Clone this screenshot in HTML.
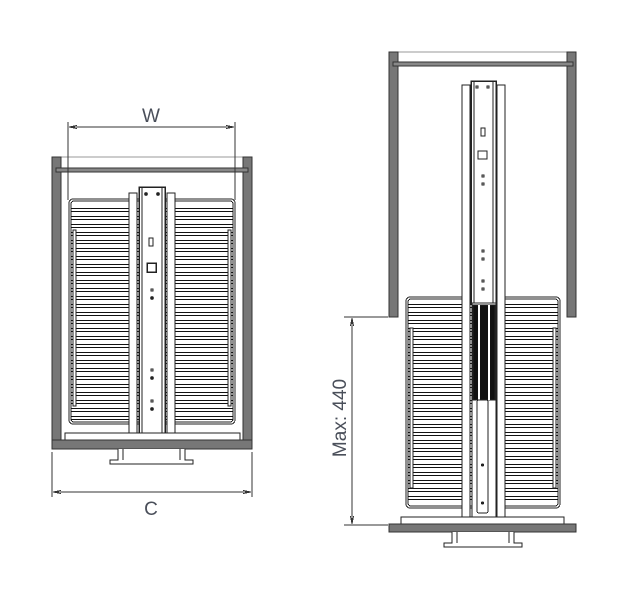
<!DOCTYPE html>
<html><head><meta charset="utf-8"><style>html,body{margin:0;padding:0;background:#fff}svg{display:block}</style></head>
<body>
<svg width="638" height="602" viewBox="0 0 638 602" xmlns="http://www.w3.org/2000/svg" shape-rendering="crispEdges">
<defs>
<pattern id="sl" x="0" y="0" width="10" height="8" patternUnits="userSpaceOnUse">
<rect x="0" y="0" width="10" height="1" fill="#111"/><rect x="0" y="3" width="10" height="1" fill="#111"/>
</pattern>
<marker id="ar" viewBox="0 0 10 10" refX="10" refY="5" markerWidth="8" markerHeight="8" orient="auto-start-reverse"><path d="M0,3 L10,5 L0,7" fill="none" stroke="#333" stroke-width="1"/></marker>
</defs>
<g fill="none" stroke="#222" stroke-width="1">
<!-- LEFT CABINET -->
<line x1="61" y1="157" x2="243" y2="157" stroke="#999"/>
<rect x="52" y="157" width="9" height="292" fill="#777" stroke="#333"/>
<rect x="243" y="157" width="9" height="292" fill="#777" stroke="#333"/>
<rect x="56" y="168" width="192" height="4" fill="#888" stroke="#333"/>
<rect x="69" y="199" width="166" height="225" rx="4" fill="#fff"/>
<rect x="71" y="201" width="162" height="221" rx="3"/>
<rect x="71" y="208" width="162" height="212" fill="url(#sl)" stroke="none"/>
<rect x="73" y="230" width="3" height="176" fill="#fff"/>
<rect x="228" y="230" width="3" height="176" fill="#fff"/>
<rect x="129" y="193" width="8" height="240" fill="#fff"/>
<rect x="167" y="193" width="8" height="240" fill="#fff"/>
<rect x="139" y="187" width="26" height="250" fill="#fff" stroke-width="1.5"/>
<line x1="142" y1="187" x2="142" y2="437"/><line x1="162" y1="187" x2="162" y2="437"/>
<rect x="149" y="238" width="4" height="8"/>
<rect x="147" y="263" width="9" height="9" stroke-width="1.5"/>
<circle cx="146" cy="194" r="1.3" fill="#222"/><circle cx="158" cy="194" r="1.3" fill="#222"/>
<circle cx="152" cy="290" r="1.2"/><circle cx="152" cy="298" r="1.3" fill="#222"/>
<circle cx="152" cy="370" r="1.2"/><circle cx="152" cy="378" r="1.3" fill="#222"/>
<circle cx="152" cy="401" r="1.2"/><circle cx="152" cy="409" r="1.3" fill="#222"/>
<rect x="65" y="433" width="175" height="7" fill="#fff"/>
<rect x="52" y="440" width="200" height="9" fill="#777" stroke="#333"/>
<path d="M118,449 V460 H110 V464 H193 V460 H185 V449 M123,449 V460 M180,449 V460" fill="#fff"/>
<g stroke="#333"><line x1="68" y1="122" x2="68" y2="200"/><line x1="235" y1="122" x2="235" y2="200"/>
<line x1="69" y1="127" x2="234" y2="127" marker-start="url(#ar)" marker-end="url(#ar)"/>
<line x1="52" y1="452" x2="52" y2="497"/><line x1="252" y1="452" x2="252" y2="497"/>
<line x1="53" y1="492" x2="251" y2="492" marker-start="url(#ar)" marker-end="url(#ar)"/></g>

<!-- RIGHT CABINET -->
<line x1="398" y1="52" x2="567" y2="52" stroke="#999"/>
<rect x="389" y="52" width="9" height="265" fill="#777" stroke="#333"/>
<rect x="567" y="52" width="9" height="265" fill="#777" stroke="#333"/>
<rect x="393" y="62" width="180" height="4" fill="#888" stroke="#333"/>
<rect x="406" y="297" width="154" height="211" rx="4" fill="#fff"/>
<rect x="408" y="299" width="150" height="207" rx="3"/>
<rect x="408" y="304" width="150" height="200" fill="url(#sl)" stroke="none"/>
<rect x="410" y="328" width="3" height="160" fill="#fff"/>
<rect x="553" y="328" width="3" height="160" fill="#fff"/>
<rect x="462" y="85" width="8" height="435" fill="#fff"/>
<rect x="497" y="85" width="8" height="435" fill="#fff"/>
<rect x="471" y="81" width="25" height="222" fill="#fff" stroke-width="1.5"/>
<line x1="474" y1="81" x2="474" y2="303"/><line x1="493" y1="81" x2="493" y2="303"/>
<rect x="481" y="128" width="4" height="8"/>
<rect x="478" y="151" width="9" height="8"/>
<circle cx="477" cy="87" r="1.2"/><circle cx="488" cy="87" r="1.2"/>
<circle cx="483" cy="176" r="1.2"/><circle cx="483" cy="184" r="1.2"/>
<circle cx="483" cy="251" r="1.2"/><circle cx="483" cy="259" r="1.2"/>
<circle cx="483" cy="281" r="1.2"/><circle cx="483" cy="289" r="1.2"/>
<rect x="472" y="303" width="24" height="217" fill="#fff"/>
<rect x="473" y="305" width="22" height="95" fill="#111"/>
<rect x="478" y="305" width="2" height="95" fill="#fff" stroke="none"/>
<rect x="488" y="305" width="2" height="95" fill="#fff" stroke="none"/>
<rect x="477" y="400" width="11" height="113" rx="2" fill="#fff"/>
<circle cx="482.5" cy="465" r="1" fill="#222"/><circle cx="482.5" cy="503" r="1" fill="#222"/>
<rect x="401" y="517" width="163" height="7" fill="#fff"/>
<rect x="389" y="524" width="187" height="8" fill="#777" stroke="#333"/>
<path d="M452,532 V543 H444 V547 H522 V543 H514 V532 M457,532 V543 M509,532 V543" fill="#fff"/>
<g stroke="#333"><line x1="344" y1="317" x2="388" y2="317"/><line x1="344" y1="525" x2="388" y2="525"/>
<line x1="352" y1="318" x2="352" y2="524" marker-start="url(#ar)" marker-end="url(#ar)"/></g>
</g>
<g font-family="Liberation Sans, sans-serif" fill="#4a4f5a" font-size="19" shape-rendering="auto">
<text x="151" y="122" text-anchor="middle">W</text>
<text x="151" y="515" text-anchor="middle">C</text>
<text transform="translate(346,418) rotate(-90)" text-anchor="middle">Max: 440</text>
</g>
</svg>
</body></html>
